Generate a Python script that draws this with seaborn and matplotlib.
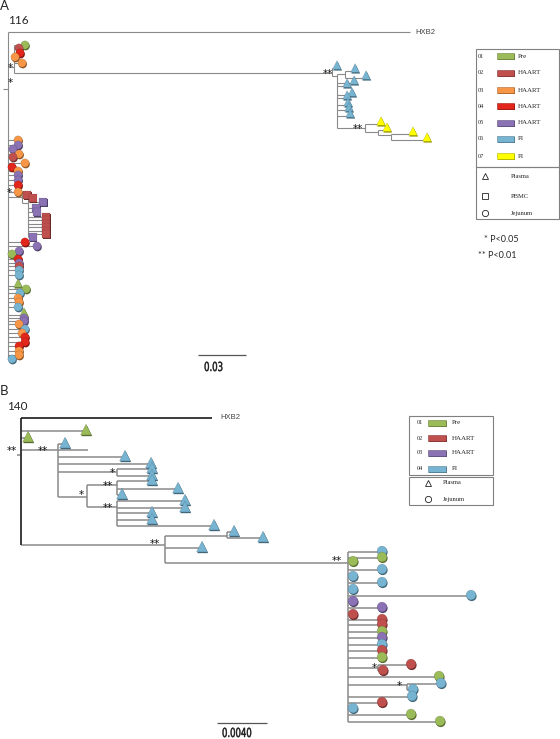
import numpy as np
import pandas as pd
import matplotlib
matplotlib.use('Agg')
import matplotlib.pyplot as plt
import seaborn as sns
from matplotlib.colors import to_rgb
from matplotlib.patches import Rectangle, PathPatch
from matplotlib.textpath import TextPath
from matplotlib.font_manager import FontProperties
from matplotlib.transforms import Affine2D

# ---------------------------------------------------------------- colours
GREEN, BROWN, ORANGE, RED = '#9BBB59', '#C0504D', '#F79646', '#E3261B'
PURPLE, BLUE, YELLOW = '#8A72B4', '#76B4D2', '#FFFF00'

A_CODES = ['01', '02', '03', '04', '05', '06', '07']
A_LABELS = ['Pre', 'HAART', 'HAART', 'HAART', 'HAART', 'PI', 'PI']
A_COLORS = [GREEN, BROWN, ORANGE, RED, PURPLE, BLUE, YELLOW]
B_CODES = ['01', '02', '03', '04']
B_LABELS = ['Pre', 'HAART', 'HAART', 'PI']
B_COLORS = [GREEN, BROWN, PURPLE, BLUE]
A_SITES = ['Plasma', 'PBMC', 'Jejunum']
B_SITES = ['Plasma', 'Jejunum']

# ---------------------------------------------------------------- panel A (116)
# tips: parent node depth, tip depth (subst./site), row, sample, compartment
A_TIP_PARENT = ([0.0] + [0.0038] * 5 + [0.2025] + [0.2106] * 2 + [0.2056] * 7
                + [0.2231, 0.2313, 0.2394, 0.2394] + [0.0] * 12 + [0.0088]
                + [0.0125] * 11 + [0.0] * 27)
A_TIP_DEPTH = [0.2513,
               0.0106, 0.0069, 0.0075, 0.0044, 0.0088,
               0.2056, 0.2169, 0.2238,
               0.2163, 0.2119, 0.2150, 0.2119, 0.2125, 0.2131, 0.2138,
               0.2331, 0.2369, 0.2531, 0.2619,
               0.0063, 0.0063, 0.0031, 0.0069, 0.0031, 0.0106, 0.0025, 0.0063,
               0.0063, 0.0063, 0.0063, 0.0063,
               0.0119,
               0.0156, 0.0219, 0.0175, 0.0181, 0.0238, 0.0238, 0.0238, 0.0238,
               0.0238, 0.0238, 0.0156,
               0.0106, 0.0181, 0.0069, 0.0025, 0.0063, 0.0069, 0.0069, 0.0069,
               0.0069, 0.0063, 0.0113, 0.0075, 0.0063, 0.0069, 0.0063, 0.0100,
               0.0100, 0.0100, 0.0069, 0.0106, 0.0088, 0.0106, 0.0106, 0.0069,
               0.0069, 0.0069, 0.0025]
A_TIP_ROW = [32,
             45, 48, 53, 57, 63,
             68, 71, 78,
             83, 86, 95, 98, 105, 110, 116,
             124, 130, 134, 140,
             140, 145, 149, 154, 157, 163, 167, 171, 175, 180, 185, 192,
             195,
             198, 202, 208, 212, 217, 220, 224, 227, 231, 234, 237,
             242, 246, 251, 254, 259, 263, 266, 270, 275, 286, 289, 293, 298,
             302, 307, 315, 318, 321, 324, 329, 333, 337, 342, 346, 351, 355,
             359]
A_TIP_SAMPLE = (['', '01', '02', '04', '03', '03'] + ['06'] * 10 + ['07'] * 4
                + ['03', '05', '05', '03', '02', '03', '04', '03', '05', '05',
                   '04', '03']
                + ['02', '02', '05', '05', '05'] + ['02'] * 6 + ['05']
                + ['04', '05', '05', '01', '04', '05', '02', '06', '06', '01',
                   '01', '06', '03', '03', '06', '01', '05', '05', '03', '06',
                   '03', '04', '04', '04', '03', '03', '06'])
A_TIP_SITE = ([''] + ['Jejunum'] * 5 + ['Plasma'] * 14 + ['Jejunum'] * 12
              + ['PBMC'] * 12
              + ['Jejunum'] * 9 + ['Plasma'] + ['Jejunum'] * 5 + ['Plasma']
              + ['Jejunum'] * 11)
# internal branches: parent depth, node depth, row
A_INT_PARENT = [-0.0031, 0.0, 0.0038, 0.2025, 0.2056, 0.2056, 0.2231, 0.2313, 0.0, 0.0088]
A_INT_DEPTH = [0.0, 0.0038, 0.2025, 0.2056, 0.2106, 0.2231, 0.2313, 0.2394, 0.0088, 0.0125]
A_INT_ROW = [89, 67, 73, 76, 74, 128, 132, 135, 197, 203]
# node verticals: depth, first row, last row
A_NODE_DEPTH = [0.0, 0.0038, 0.2025, 0.2056, 0.2106, 0.2231, 0.2313, 0.2394, 0.0088, 0.0125]
A_NODE_TOP = [32, 45, 68, 74, 71, 124, 130, 134, 195, 198]
A_NODE_BOT = [359, 73, 76, 128, 78, 132, 135, 140, 203, 237]
# support marks
A_SUP_TEXT = ['*', '*', '*', '**', '**']
A_SUP_DEPTH = [0.0013, 0.0013, 0.0006, 0.2000, 0.2188]
A_SUP_ROW = [68, 83, 193, 74, 129]

# ---------------------------------------------------------------- panel B (140)
B_TIP_PARENT = ([0.0, 0.0, 0.0] + [0.00296] * 4 + [0.00768] * 10
                + [0.01648] * 2 + [0.01152] + [0.02616] * 18
                + [0.02856] * 2 + [0.02616] + [0.03088] * 2 + [0.02616] * 5)
B_TIP_DEPTH = [0.01528, 0.0052, 0.00056,
               0.00352, 0.00536, 0.00832, 0.0104,
               0.01048, 0.01048,
               0.01048, 0.01256, 0.00808,
               0.01312, 0.01312, 0.01048, 0.01048, 0.01544,
               0.01704, 0.01936, 0.01448,
               0.02888, 0.02888, 0.02656, 0.02888, 0.02656, 0.02888, 0.02656,
               0.036, 0.02656, 0.02888, 0.02656, 0.02888, 0.02888, 0.02888,
               0.02888, 0.02888, 0.02888, 0.02888,
               0.0312, 0.02896, 0.03344, 0.0336, 0.03136,
               0.03128, 0.02888, 0.02656, 0.0312, 0.03352]
B_TIP_ROW = [418, 431, 438,
             444, 450, 457, 464,
             469, 476,
             481, 489, 495,
             501, 508, 513, 520, 526,
             532, 538, 548,
             552, 558, 562, 570, 577, 583, 590, 596, 602, 608, 615, 620, 625,
             632, 638, 645, 651, 658,
             665, 671, 677, 684, 690,
             697, 703, 709, 715, 722]
B_TIP_SAMPLE = (['', '01', '01', '04', '', '04', '04'] + ['04'] * 13
                + ['04', '01', '01', '04', '04', '04', '04', '04', '03', '03',
                   '02', '02', '02', '01', '03', '04', '02', '01',
                   '02', '02', '01', '04', '04', '04', '02', '04', '01', '01'])
B_TIP_SITE = (['', 'Plasma', 'Plasma', 'Plasma', '', 'Plasma', 'Plasma']
              + ['Plasma'] * 13 + ['Jejunum'] * 28)
B_INT_PARENT = [-0.00032, 0.0, 0.00296, 0.00296, 0.00528, 0.00528, 0.0, 0.01152,
                0.01152, 0.02616, 0.02616]
B_INT_DEPTH = [0.0, 0.00296, 0.00768, 0.00528, 0.00768, 0.00768, 0.01152, 0.01648,
               0.02616, 0.02856, 0.03088]
B_INT_ROW = [455, 450, 472, 497, 485, 507, 545, 536, 563, 668, 685]
B_NODE_DEPTH = [0.0, 0.00296, 0.00768, 0.00528, 0.00768, 0.00768, 0.01152, 0.01648,
                0.02616, 0.02856, 0.03088]
B_NODE_TOP = [418, 444, 469, 485, 481, 501, 536, 532, 552, 665, 684]
B_NODE_BOT = [545, 497, 476, 507, 495, 526, 563, 538, 722, 671, 690]
B_SUP_TEXT = ['**', '**', '*', '**', '*', '**', '**', '**', '*', '*']
B_SUP_DEPTH = [-0.00072, 0.00176, 0.00728, 0.00696, 0.0048, 0.00696, 0.01072,
               0.02528, 0.02824, 0.03024]
B_SUP_ROW = [451, 451, 473, 486, 495, 508, 544, 561, 668, 686]

A_SCALE = (0.1188, 355, 0.03, '0.03')
B_SCALE = (0.01568, 723, 0.004, '0.0040')

MARKERS = {'Plasma': '^', 'PBMC': 's', 'Jejunum': 'o'}


def darker(c, f=0.6):
    return tuple(v * f for v in to_rgb(c))


def draw_tree(ax, tips, ints, nodes, sups, palette, ppu, lw, lcol, sizes, lift):
    ax.hlines(tips['row'], tips['parent'], tips['depth'], color=lcol, lw=lw, zorder=1)
    ax.hlines(ints['row'], ints['parent'], ints['depth'], color=lcol, lw=lw, zorder=1)
    ax.vlines(nodes['depth'], nodes['top'], nodes['bot'], color=lcol, lw=lw, zorder=1)
    pts = tips[tips['sample'] != ''].copy()
    pts['row'] = pts['row'] + pts['site'].map(lift)
    shade = pts.copy()
    shade['depth'] += 0.7 / ppu
    shade['row'] += 1.2
    dark = {k: darker(v) for k, v in palette.items()}
    for site, s in sizes.items():
        sub_s = shade[shade['site'] == site]
        sub_p = pts[pts['site'] == site]
        if len(sub_p) == 0:
            continue
        sns.scatterplot(data=sub_s, x='depth', y='row', hue='sample', palette=dark,
                        marker=MARKERS[site], s=s, linewidth=0, legend=False,
                        ax=ax, zorder=3)
        sns.scatterplot(data=sub_p, x='depth', y='row', hue='sample', palette=palette,
                        marker=MARKERS[site], s=s, linewidth=0.3,
                        edgecolor=(0, 0, 0, 0.25), legend=False, ax=ax, zorder=4)
    for t, d, r in zip(sups['text'], sups['depth'], sups['row']):
        ax.text(d, r, t, ha='center', va='center', fontsize=7.5, color='#111111',
                family='DejaVu Sans', zorder=5)


fig = plt.figure(figsize=(5.6, 7.39), dpi=100)
sns.set_style('white')

# ------------------------------------------------ panel A
A_PPU = 1600.0
axA = fig.add_axes([0, 1 - 375 / 739, 1, 375 / 739])
tipsA = pd.DataFrame({'parent': A_TIP_PARENT, 'depth': A_TIP_DEPTH, 'row': A_TIP_ROW,
                      'sample': A_TIP_SAMPLE, 'site': A_TIP_SITE})
intsA = pd.DataFrame({'parent': A_INT_PARENT, 'depth': A_INT_DEPTH, 'row': A_INT_ROW})
nodesA = pd.DataFrame({'depth': A_NODE_DEPTH, 'top': A_NODE_TOP, 'bot': A_NODE_BOT})
supsA = pd.DataFrame({'text': A_SUP_TEXT, 'depth': A_SUP_DEPTH, 'row': A_SUP_ROW})
draw_tree(axA, tipsA, intsA, nodesA, supsA, dict(zip(A_CODES, A_COLORS)), A_PPU,
          0.8, '#8a8a8a', {'Plasma': 40, 'PBMC': 30, 'Jejunum': 36},
          {'Plasma': -3.0, 'PBMC': 0.0, 'Jejunum': 0.0})
axA.text(A_TIP_DEPTH[0] + 5 / A_PPU, A_TIP_ROW[0], 'HXB2', fontsize=5.5,
         color='#444444', va='center', family='Liberation Sans')
axA.hlines(A_SCALE[1], A_SCALE[0], A_SCALE[0] + A_SCALE[2], color='#555555', lw=0.9)
axA.set_xlim(-8 / A_PPU, 552 / A_PPU)
axA.set_ylim(375, 0)
axA.axis('off')

# ------------------------------------------------ panel B
B_PPU = 12500.0
axB = fig.add_axes([0, 0, 1, 364 / 739])
tipsB = pd.DataFrame({'parent': B_TIP_PARENT, 'depth': B_TIP_DEPTH, 'row': B_TIP_ROW,
                      'sample': B_TIP_SAMPLE, 'site': B_TIP_SITE})
intsB = pd.DataFrame({'parent': B_INT_PARENT, 'depth': B_INT_DEPTH, 'row': B_INT_ROW})
nodesB = pd.DataFrame({'depth': B_NODE_DEPTH, 'top': B_NODE_TOP, 'bot': B_NODE_BOT})
supsB = pd.DataFrame({'text': B_SUP_TEXT, 'depth': B_SUP_DEPTH, 'row': B_SUP_ROW})
draw_tree(axB, tipsB, intsB, nodesB, supsB, dict(zip(B_CODES, B_COLORS)), B_PPU,
          1.1, '#8a8a8a', {'Plasma': 62, 'Jejunum': 50},
          {'Plasma': -1.5, 'Jejunum': -1.0})
# root and outgroup drawn darker
axB.vlines(B_NODE_DEPTH[0], B_NODE_TOP[0], B_NODE_BOT[0], color='#222222', lw=1.1, zorder=2)
axB.hlines(B_TIP_ROW[0], B_TIP_PARENT[0], B_TIP_DEPTH[0], color='#222222', lw=1.1, zorder=2)
axB.text(B_TIP_DEPTH[0] + 8 / B_PPU, B_TIP_ROW[0], 'HXB2', fontsize=5.5,
         color='#444444', va='center', family='Liberation Sans')
axB.hlines(B_SCALE[1], B_SCALE[0], B_SCALE[0] + B_SCALE[2], color='#555555', lw=0.9)
axB.set_xlim(-21 / B_PPU, 539 / B_PPU)
axB.set_ylim(739, 375)
axB.axis('off')

# ------------------------------------------------ overlay: labels and legends
ov = fig.add_axes([0, 0, 1, 1], zorder=10)
ov.set_xlim(0, 560)
ov.set_ylim(739, 0)
ov.axis('off')
ov.patch.set_alpha(0)

ov.text(0, 0.5, 'A', fontsize=9.5, va='top', family='Lato')
ov.text(8, 20, '116', fontsize=8.5, va='center', family='Lato')
ov.text(0, 385, 'B', fontsize=9.5, va='top', family='Lato')
ov.text(7, 406, '140', fontsize=8.5, va='center', family='Lato')
ov.text(484, 239, '* P<0.05', fontsize=6.5, va='center', family='Lato')
ov.text(478, 256, '** P<0.01', fontsize=6.5, va='center', family='Lato')


def condensed_label(ax_src, depth, row, text, dx, dy):
    # narrow scale-bar caption, placed under the bar start
    disp = ax_src.transData.transform((depth, row))
    x, y = ov.transData.inverted().transform(disp)
    tp = TextPath((0, 0), text, size=12.5, prop=FontProperties(family='DejaVu Sans'))
    tr = Affine2D().scale(0.68, -1.0).translate(x + dx, y + dy)
    ov.add_patch(PathPatch(tr.transform_path(tp), fc='#1a1a1a', ec='#1a1a1a', lw=0.35))


condensed_label(axA, A_SCALE[0], A_SCALE[1], A_SCALE[3], 6, 16)
condensed_label(axB, B_SCALE[0], B_SCALE[1], B_SCALE[3], 5, 14)


def draw_legend(box, split, rows, codes, labels, colors, xs, site_rows, sites, sx):
    left, top, right, bot = box
    ec = '#808080'
    ov.add_patch(Rectangle((left, top), right - left, split[0] - top, fill=False, ec=ec, lw=0.8))
    ov.add_patch(Rectangle((left, split[1]), right - left, bot - split[1], fill=False, ec=ec, lw=0.8))
    cx, rx, rw, lx = xs
    for y, c, l, col in zip(rows, codes, labels, colors):
        ov.text(cx, y, c, fontsize=4.5, va='center', family='Liberation Serif')
        ov.add_patch(Rectangle((rx + 0.8, y - 2.2), rw, 6, fc=darker(col, 0.55), ec='none'))
        ov.add_patch(Rectangle((rx, y - 3), rw, 6, fc=col, ec=darker(col, 0.7), lw=0.4))
        ov.text(lx, y, l, fontsize=5, va='center', family='Liberation Serif')
    sym_x, txt_x = sx
    for y, s in zip(site_rows, sites):
        ov.plot([sym_x], [y], marker=MARKERS[s], ms=4.5, mfc='none', mec='#222222', mew=0.6)
        ov.text(txt_x, y, s, fontsize=4.7, va='center', family='Liberation Serif')


draw_legend((476, 49, 559, 219), (167, 167), [56, 73, 90, 106, 123, 139, 156],
            A_CODES, A_LABELS, A_COLORS, (478, 497, 17, 518),
            [176, 196, 213], A_SITES, (485, 511))
draw_legend((409, 416, 493, 505), (475, 477), [423, 438, 453, 469],
            B_CODES, B_LABELS, B_COLORS, (417, 428, 18, 452),
            [483, 499], B_SITES, (428, 443))

fig.savefig('out.png', dpi=100)
